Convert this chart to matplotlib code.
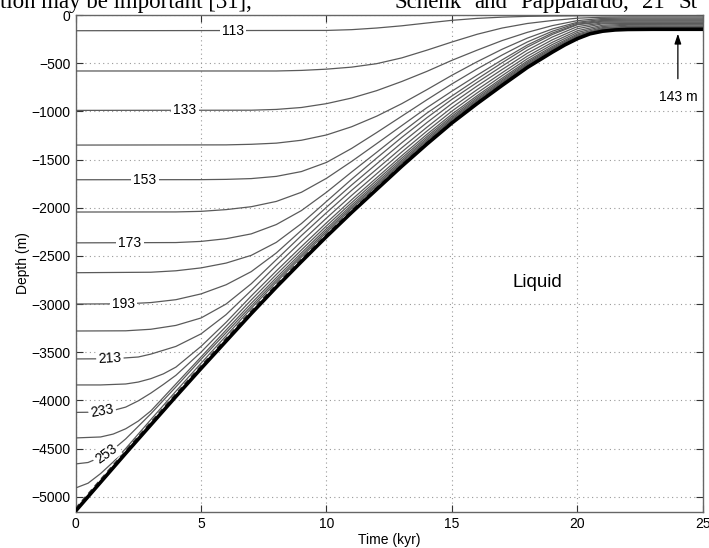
import matplotlib
matplotlib.use("Agg")
import matplotlib.pyplot as plt
import numpy as np

plt.rcParams['font.family'] = ['Liberation Sans', 'DejaVu Sans']

# ---------------- data ----------------
# melting front (thick black line)
t_front = [0, 1, 2, 3, 4, 5, 6, 7, 8, 9, 10, 11, 12, 13, 14, 15, 16, 17, 18, 19, 19.5, 20, 20.5, 21, 21.5, 22, 23, 25]
d_front = [-5150, -4850, -4550, -4255, -3960, -3670, -3385, -3100, -2825, -2560, -2300, -2050, -1810, -1570,
           -1340, -1120, -920, -730, -545, -385, -310, -245, -195, -168, -155, -150, -148, -148]

# dashed line just above the front
t_dash = [0, 1, 2, 3, 4, 5, 6, 7, 8, 9, 10, 11, 12, 13, 14, 15, 16, 17, 18, 19, 20, 21, 22, 25]
d_dash = [-5120, -4820, -4520, -4225, -3930, -3640, -3355, -3069, -2796, -2534, -2276, -2028, -1790, -1551,
          -1323, -1104, -906, -717, -534, -375, -237, -162, -145, -143]

# isotherms (K)
t_113 = [0, 10, 11, 12, 13, 14, 15, 16, 17, 18, 19, 20, 22, 25]
d_113 = [-163, -160, -152, -135, -112, -83, -55, -35, -22, -14, -10, -8, -7, -6]

t_123 = [0, 8, 9, 10, 11, 12, 13, 14, 15, 16, 17, 18, 19, 20, 21, 22, 25]
d_123 = [-581, -581, -575, -562, -541, -505, -445, -365, -280, -200, -135, -88, -57, -33, -23, -20, -20]

t_133 = [0, 7, 8, 9, 10, 11, 12, 13, 14, 15, 16, 17, 18, 19, 20, 21, 22, 25]
d_133 = [-990, -988, -980, -960, -920, -862, -785, -690, -585, -470, -365, -265, -180, -110, -58, -35, -32, -32]

t_143 = [0, 6, 7, 8, 9, 10, 11, 12, 13, 14, 15, 16, 17, 18, 19, 20, 21, 22, 25]
d_143 = [-1350, -1348, -1342, -1330, -1300, -1245, -1160, -1050, -920, -775, -625, -485, -355, -240, -145,
         -75, -46, -43, -43]

t_153 = [0, 5, 6, 7, 8, 9, 10, 11, 12, 13, 14, 15, 16, 17, 18, 19, 20, 21, 22, 25]
d_153 = [-1710, -1709, -1706, -1698, -1675, -1625, -1530, -1385, -1220, -1050, -880, -715, -560, -415, -280,
         -168, -85, -56, -53, -53]

t_163 = [0, 4, 5, 6, 7, 8, 9, 10, 11, 12, 13, 14, 15, 16, 17, 18, 19, 20, 21, 22, 25]
d_163 = [-2045, -2044, -2038, -2020, -1990, -1935, -1840, -1695, -1520, -1335, -1148, -962, -790, -625,
         -465, -312, -187, -96, -64, -62, -62]

t_173 = [0, 4, 5, 6, 7, 8, 9, 10, 11, 12, 13, 14, 15, 16, 17, 18, 19, 20, 21, 22, 25]
d_173 = [-2365, -2362, -2350, -2322, -2272, -2175, -2030, -1840, -1630, -1425, -1218, -1018, -840, -665,
         -495, -333, -202, -100, -72, -72, -72]

t_183 = [0, 3, 4, 5, 6, 7, 8, 9, 10, 11, 12, 13, 14, 15, 16, 17, 18, 19, 20, 21, 22, 25]
d_183 = [-2675, -2670, -2655, -2625, -2575, -2495, -2360, -2165, -1935, -1705, -1485, -1270, -1066, -875,
         -700, -530, -365, -228, -120, -82, -81, -81]

t_193 = [0, 2, 3, 4, 5, 6, 7, 8, 9, 10, 11, 12, 13, 14, 15, 16, 17, 18, 19, 20, 21, 22, 25]
d_193 = [-3000, -2998, -2985, -2955, -2895, -2800, -2664, -2470, -2235, -1995, -1765, -1545, -1326, -1117,
         -918, -737, -565, -397, -257, -142, -91, -89, -88]

t_203 = [0, 2, 3, 4, 5, 6, 7, 8, 9, 10, 11, 12, 13, 14, 15, 16, 17, 18, 19, 20, 21, 22, 25]
d_203 = [-3280, -3278, -3262, -3222, -3145, -3000, -2790, -2540, -2290, -2052, -1820, -1600, -1378, -1165,
         -960, -775, -599, -427, -283, -163, -106, -97, -95]

t_213 = [0, 1.5, 2.5, 3, 4, 5, 6, 7, 8, 9, 10, 11, 12, 13, 14, 15, 16, 17, 18, 19, 20, 21, 22, 25]
d_213 = [-3570, -3568, -3550, -3520, -3440, -3310, -3110, -2860, -2600, -2351, -2108, -1873, -1648, -1422,
         -1205, -997, -809, -629, -454, -306, -181, -119, -106, -104]

t_223 = [0, 1, 2, 2.5, 3, 3.5, 4, 5, 6, 7, 8, 9, 10, 11, 12, 13, 14, 15, 16, 17, 18, 19, 20, 21, 22, 25]
d_223 = [-3840, -3840, -3830, -3810, -3775, -3725, -3655, -3440, -3190, -2917, -2657, -2404, -2157, -1918,
         -1689, -1460, -1239, -1028, -838, -655, -477, -326, -197, -131, -117, -115]

t_233 = [0, 1, 1.5, 2, 2.5, 3, 3.5, 4, 5, 6, 7, 8, 9, 10, 11, 12, 13, 14, 15, 16, 17, 18, 19, 20, 21, 22, 25]
d_233 = [-4125, -4122, -4105, -4070, -4005, -3925, -3835, -3740, -3500, -3232, -2958, -2694, -2439, -2189,
         -1948, -1716, -1485, -1262, -1049, -856, -672, -492, -340, -208, -140, -124, -122]

t_243 = [0, 1, 1.5, 2, 2.5, 3, 4, 5, 6, 7, 8, 9, 10, 11, 12, 13, 14, 15, 16, 17, 18, 19, 20, 21, 22, 25]
d_243 = [-4390, -4380, -4350, -4295, -4215, -4110, -3830, -3550, -3270, -2993, -2727, -2469, -2217, -1973,
         -1739, -1506, -1281, -1066, -872, -686, -505, -351, -217, -147, -131, -129]

t_253 = [0, 0.5, 1, 1.5, 2, 2.5, 3, 4, 5, 6, 7, 8, 9, 10, 11, 12, 13, 14, 15, 16, 17, 18, 19, 20, 21, 22, 25]
d_253 = [-4660, -4645, -4590, -4510, -4400, -4270, -4140, -3860, -3575, -3298, -3021, -2752, -2493, -2238,
         -1993, -1758, -1523, -1297, -1080, -884, -698, -516, -360, -224, -152, -136, -134]

t_263 = [0, 0.5, 1, 1.5, 2, 3, 4, 5, 6, 7, 8, 9, 10, 11, 12, 13, 14, 15, 16, 17, 18, 19, 20, 21, 22, 25]
d_263 = [-4910, -4860, -4760, -4640, -4500, -4200, -3905, -3615, -3330, -3045, -2774, -2513, -2257, -2010,
         -1774, -1537, -1310, -1092, -895, -707, -525, -367, -231, -157, -140, -138]

iso_t = [t_113, t_123, t_133, t_143, t_153, t_163, t_173, t_183, t_193, t_203, t_213, t_223, t_233, t_243,
         t_253, t_263]
iso_d = [d_113, d_123, d_133, d_143, d_153, d_163, d_173, d_183, d_193, d_203, d_213, d_223, d_233, d_243,
         d_253, d_263]

# contour labels: text, time, depth, rotation
label_text = ['113', '133', '153', '173', '193', '213', '233', '253']
label_t = [6.28, 4.36, 2.77, 2.17, 1.9, 1.37, 1.06, 1.22]
label_d = [-163, -990, -1710, -2365, -3000, -3568, -4110, -4560]
label_rot = [0, 0, 0, 0, 0, 3, 10, 36]

x_ticks = [0, 5, 10, 15, 20, 25]
y_ticks = [0, -500, -1000, -1500, -2000, -2500, -3000, -3500, -4000, -4500, -5000]

# cut-off line of page text above the figure (pieces and their left edges in pixels)
page_words = ['tion may be important [31],', 'Schenk', 'and', 'Pappalardo,', '21', 'St']
page_word_x = [0, 395, 474, 520, 642, 678]

# ---------------- figure ----------------
W, H = 709, 548
fig = plt.figure(figsize=(W / 100, H / 100), dpi=100)
ax = fig.add_axes([0.1065, 0.0662, 0.885, 0.9064])

for tt, dd in zip(iso_t, iso_d):
    ax.plot(tt, dd, color='#5a5a5a', lw=0.9, solid_joinstyle='round', zorder=3)

ax.plot(t_dash, d_dash, color='#404040', lw=1.0, dashes=(4, 3), zorder=3)
ax.plot(t_front, d_front, color='black', lw=2.6, solid_capstyle='butt', zorder=4)

for s, x, y, r in zip(label_text, label_t, label_d, label_rot):
    ax.text(x, y, s, fontsize=10, ha='center', va='center', rotation=r, rotation_mode='anchor',
            bbox=dict(boxstyle='square,pad=0.15', fc='white', ec='none'), zorder=5)

ax.text(18.4, -2780, 'Liquid', fontsize=13.5, ha='center', va='center', zorder=5)
ax.annotate('', xy=(24.0, -165), xytext=(24.0, -690),
            arrowprops=dict(arrowstyle='-|>,head_length=0.6,head_width=0.2', color='black', lw=0.9),
            zorder=6)
ax.text(24.0, -850, '143 m', fontsize=10, ha='center', va='center', zorder=6)

ax.set_xlim(0, 25)
ax.set_ylim(-5156, 0)
ax.set_xticks(x_ticks)
ax.set_yticks(y_ticks)
ax.grid(True, linestyle=(0, (1, 3)), color='#999999', lw=0.8)
ax.tick_params(direction='in', length=5, top=True, right=True, labelsize=10, colors='#333333',
               labelcolor='black')
for sp in ax.spines.values():
    sp.set_color('#666666')
    sp.set_linewidth(1.0)
ax.set_xlabel('Time (kyr)', fontsize=10, labelpad=2)
ax.set_ylabel('Depth (m)', fontsize=10, labelpad=1)

for w, px in zip(page_words, page_word_x):
    fig.text(px / W, 1 - 8 / H, w, fontsize=16.5, family='Liberation Serif',
             ha='left', va='baseline')

fig.savefig('out.png', dpi=100)
